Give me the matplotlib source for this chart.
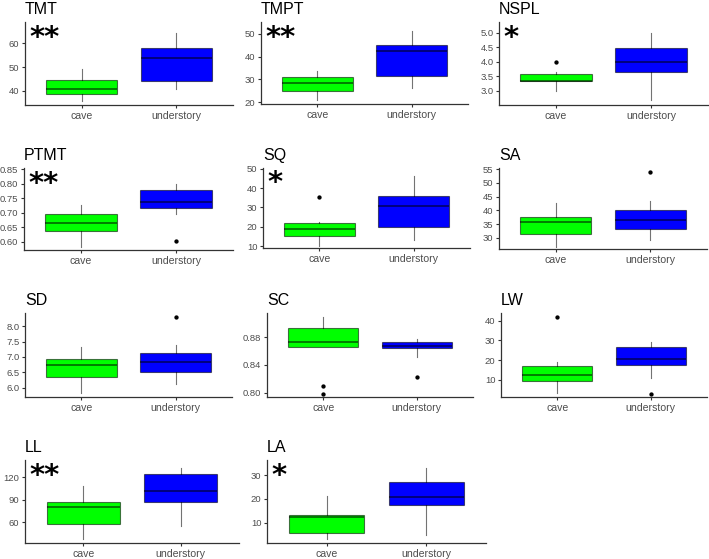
import matplotlib
matplotlib.use("Agg")
import matplotlib.pyplot as plt

plt.rcParams['font.family'] = ['Liberation Sans', 'DejaVu Sans']

W, H = 709, 559
categories = ["cave", "understory"]
fill_colors = ["#00FF00", "#0000FF"]

# Each trait: (q1, median, q3, whisker_low, whisker_high, outliers) for cave and understory
titles = ["TMT", "TMPT", "NSPL", "PTMT", "SQ", "SA", "SD", "SC", "LW", "LL", "LA"]
signif = ["**", "**", "*", "**", "*", "", "", "", "", "**", "*"]

cave_q1 = [38.5, 24.8, 3.33, 0.637, 15.3, 31.4, 6.35, 0.8664, 9.5, 57.8, 5.7]
cave_med = [40.8, 28.3, 3.33, 0.665, 18.9, 35.8, 6.75, 0.8732, 12.5, 80.2, 12.3]
cave_q3 = [44.5, 31.0, 3.57, 0.696, 21.8, 37.6, 6.94, 0.8926, 16.8, 86.9, 13.5]
cave_lo = [35.8, 20.9, 3.0, 0.581, 9.8, 26.7, 5.82, 0.8664, 3.4, 37.6, 3.4]
cave_hi = [49.2, 33.9, 3.65, 0.728, 22.6, 42.6, 7.34, 0.9091, 18.9, 107.9, 21.4]
cave_out = [[], [], [4.0], [], [35.3], [], [], [0.8097, 0.7986], [41.7], [], []]

und_q1 = [44.1, 31.7, 3.66, 0.716, 20.0, 33.2, 6.51, 0.8640, 17.6, 86.9, 17.3]
und_med = [54.0, 42.5, 4.0, 0.738, 30.5, 36.3, 6.82, 0.8670, 20.5, 101.6, 20.7]
und_q3 = [58.2, 45.0, 4.49, 0.779, 36.0, 40.1, 7.14, 0.8728, 26.8, 124.0, 27.1]
und_lo = [40.6, 26.5, 2.67, 0.696, 13.3, 29.2, 6.10, 0.8510, 10.8, 55.6, 4.8]
und_hi = [64.2, 51.0, 5.0, 0.801, 46.2, 43.2, 7.39, 0.8770, 29.3, 132.1, 32.8]
und_out = [[], [], [], [0.603], [], [54.1], [8.32], [0.823], [3.1], [], []]

y_limits = [(34.0, 69.0), (19.3, 55.1), (2.51, 5.38), (0.571, 0.855), (9.0, 50.4),
            (25.9, 55.4), (5.69, 8.44), (0.7936, 0.915), (1.36, 43.8), (32.2, 143.2), (1.6, 36.3)]
y_ticks = [[40, 50, 60], [20, 30, 40, 50], [3.0, 3.5, 4.0, 4.5, 5.0],
           [0.60, 0.65, 0.70, 0.75, 0.80, 0.85], [10, 20, 30, 40, 50],
           [30, 35, 40, 45, 50, 55], [6.0, 6.5, 7.0, 7.5, 8.0], [0.80, 0.84, 0.88],
           [10, 20, 30, 40], [60, 90, 120], [10, 20, 30]]
y_fmt = ["{:.0f}", "{:.0f}", "{:.1f}", "{:.2f}", "{:.0f}", "{:.0f}", "{:.1f}", "{:.2f}",
         "{:.0f}", "{:.0f}", "{:.0f}"]

# panel boxes in pixels: left, right, top, bottom
boxes = [(25, 233, 22, 105), (261, 468, 22, 104), (499, 708, 22, 105),
         (24, 233, 168, 250), (263, 470, 168, 248), (499, 707, 168, 249),
         (25, 232, 313, 397), (267, 473, 313, 397), (501, 707, 313, 397),
         (25, 239, 460, 543), (267, 486, 460, 543)]

fig = plt.figure(figsize=(W / 100, H / 100), dpi=100)
fig.patch.set_facecolor("white")

line_col = (0, 0, 0, 0.55)

for i, t in enumerate(titles):
    l, r, tp, bt = boxes[i]
    ax = fig.add_axes([l / W, 1 - bt / H, (r - l) / W, (bt - tp) / H])
    stats = [
        dict(med=cave_med[i], q1=cave_q1[i], q3=cave_q3[i], whislo=cave_lo[i],
             whishi=cave_hi[i], fliers=cave_out[i], label=categories[0]),
        dict(med=und_med[i], q1=und_q1[i], q3=und_q3[i], whislo=und_lo[i],
             whishi=und_hi[i], fliers=und_out[i], label=categories[1]),
    ]
    bp = ax.bxp(stats, positions=[1, 2], widths=0.75, patch_artist=True,
                showcaps=False,
                boxprops=dict(edgecolor=line_col, linewidth=0.8),
                whiskerprops=dict(color=line_col, linewidth=0.8),
                medianprops=dict(color=line_col, linewidth=1.3),
                flierprops=dict(marker="o", markersize=2.1, markerfacecolor="black",
                                markeredgecolor="black", linestyle="none"))
    for patch, c in zip(bp["boxes"], fill_colors):
        patch.set_facecolor(c)
    ax.set_xlim(0.4, 2.6)
    ax.set_ylim(*y_limits[i])
    ax.set_yticks(y_ticks[i])
    ax.set_yticklabels([y_fmt[i].format(v) for v in y_ticks[i]])
    ax.set_xticks([1, 2])
    ax.set_xticklabels(categories)
    for s in ["top", "right"]:
        ax.spines[s].set_visible(False)
    for s in ["left", "bottom"]:
        ax.spines[s].set_color("#333333")
        ax.spines[s].set_linewidth(0.9)
    ax.tick_params(axis="both", colors="#333333", length=2.5, width=0.8,
                   labelsize=6.8, labelcolor="#4D4D4D", pad=1.5)
    ax.tick_params(axis="x", labelsize=7.6, pad=2)
    ax.set_facecolor("white")
    ax.set_title(t, loc="left", fontsize=11.5, pad=6, color="black")
    if signif[i]:
        ax.text(0.02, 0.71, signif[i], transform=ax.transAxes, ha="left",
                va="baseline", fontsize=21, fontweight="bold",
                family=["DejaVu Sans"], color="black")

fig.savefig("out.png", dpi=100, facecolor="white")
